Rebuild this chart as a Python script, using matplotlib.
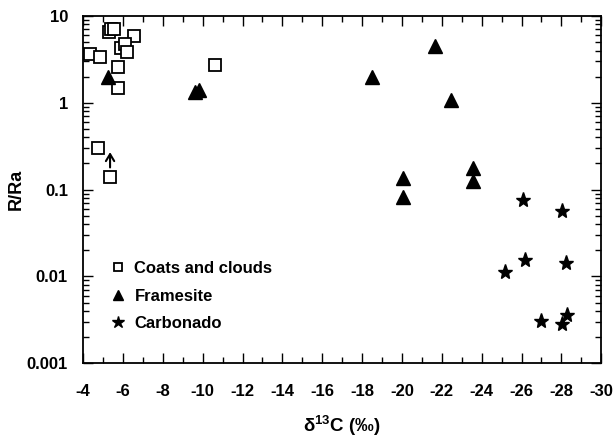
import matplotlib
matplotlib.use("Agg")
import matplotlib.pyplot as plt
from matplotlib.ticker import LogLocator, MultipleLocator, NullFormatter, FixedLocator

plt.rcParams['font.family'] = ['Liberation Sans', 'DejaVu Sans']
plt.rcParams['font.weight'] = 'bold'

# Coats and clouds (squares)
coats_x = [-4.35, -4.85, -5.3, -5.4, -5.55, -6.55, -5.9, -6.1, -6.2, -5.75, -5.75, -10.6, -4.75, -5.35]
coats_y = [3.65, 3.4, 6.6, 7.1, 7.0, 5.9, 4.25, 4.7, 3.8, 2.55, 1.48, 2.75, 0.30, 0.14]

# Framesite (triangles)
frame_x = [-5.25, -9.6, -9.8, -18.5, -21.65, -22.45, -20.05, -20.05, -23.55, -23.55]
frame_y = [1.97, 1.32, 1.40, 2.0, 4.45, 1.08, 0.136, 0.082, 0.177, 0.125]

# Carbonado (stars)
carb_x = [-26.05, -28.05, -26.15, -25.15, -28.25, -27.0, -28.3, -28.05]
carb_y = [0.075, 0.057, 0.0154, 0.0112, 0.0141, 0.0031, 0.0036, 0.0028]

fig = plt.figure(figsize=(6.16, 4.43), dpi=100)
ax = fig.add_axes([0.135, 0.180, 0.841, 0.784])

ax.plot(coats_x, coats_y, 's', mfc='white', mec='black', mew=1.3, ms=8,
        label='Coats and clouds')
ax.plot(frame_x, frame_y, '^', color='black', ms=9.5, label='Framesite')
ax.plot(carb_x, carb_y, '*', color='black', ms=11, label='Carbonado')

# lower limit arrow on the lowest coats point
ax.annotate('', xy=(-5.35, 0.27), xytext=(-5.35, 0.18),
            arrowprops=dict(arrowstyle='->,head_length=0.5,head_width=0.3',
                            color='black', lw=1.5, shrinkA=0, shrinkB=0))

ax.set_yscale('log')
ax.xaxis.set_major_locator(MultipleLocator(2))
ax.xaxis.set_minor_locator(MultipleLocator(1))
ax.yaxis.set_major_locator(FixedLocator([0.001, 0.01, 0.1, 1, 10]))
ax.yaxis.set_minor_locator(LogLocator(base=10, subs=range(2, 10)))
ax.yaxis.set_minor_formatter(NullFormatter())
ax.set_yticks([0.001, 0.01, 0.1, 1, 10])
ax.set_yticklabels(['0.001', '0.01', '0.1', '1', '10'])
ax.set_xticks(range(-4, -31, -2))
ax.set_xticklabels([str(v) for v in range(-4, -31, -2)])
ax.set_xlim(-4, -30)
ax.set_ylim(0.001, 10)

ax.tick_params(which='both', direction='in', top=True, right=True, labelsize=12)
ax.tick_params(axis='x', pad=15)
ax.tick_params(axis='y', pad=11)
ax.tick_params(which='major', length=7, width=1)
ax.tick_params(which='minor', length=4, width=1)
for sp in ax.spines.values():
    sp.set_linewidth(1.3)

ax.set_xlabel(r'$\mathregular{\delta^{13}}$C (‰)', fontsize=13.5, fontweight='bold', labelpad=11)
ax.set_ylabel('R/Ra', fontsize=13, fontweight='bold')
ax.yaxis.set_label_coords(-0.112, 0.5)

leg = ax.legend(loc='center left', bbox_to_anchor=(0.025, 0.193), frameon=False,
                fontsize=12, handlelength=0.8, handletextpad=0.6, labelspacing=0.75,
                numpoints=1, markerscale=0.8)

fig.savefig('out.png', dpi=100)
